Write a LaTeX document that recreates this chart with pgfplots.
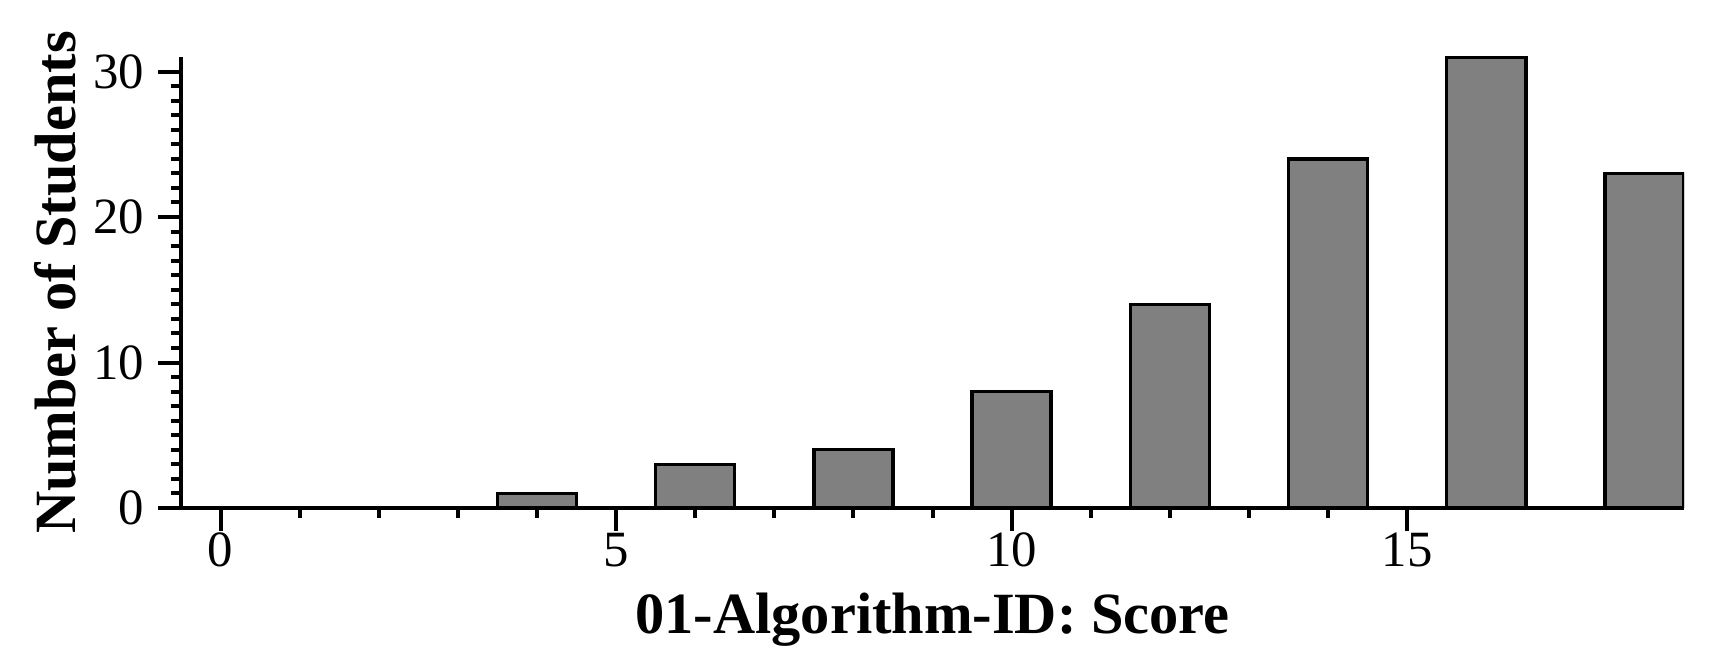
\documentclass[border=0pt]{standalone}
\usepackage{fontspec}
\setmainfont{Liberation Serif}
\usepackage{pgfplots}
\pgfplotsset{compat=1.18}
\begin{document}
\begin{tikzpicture}
\path[use as bounding box] (-45.25pt,-40.5pt) rectangle (384.75pt,127pt);
\begin{axis}[
  at={(0,0)}, anchor=south west,
  scale only axis, width=375.75pt, height=112.75pt,
  xmin=-0.5, xmax=18.5, ymin=0, ymax=31,
  axis x line=bottom, axis y line=left,
  axis line style={-, line width=1pt},
  every tick/.style={black, line width=1pt},
  tick align=outside,
  major tick length=5.75pt, minor tick length=2.5pt,
  xtick={0,5,10,15}, minor x tick num=4,
  ytick={0,10,20,30}, minor y tick num=9,
  /pgf/number format/assume math mode=true,
  tick label style={font=\fontsize{12.7}{14}\selectfont},
  xticklabel style={yshift=3pt},
  label style={font=\fontsize{14.6}{17}\selectfont\bfseries},
  xlabel={01-Algorithm-ID: Score},
  ylabel={Number of Students},
  xlabel style={at={(axis description cs:0.5,0)}, anchor=center, yshift=-28pt},
  ylabel style={at={(axis description cs:0,0.5)}, anchor=center, rotate=0, yshift=31.5pt},
  ybar, bar width=1,
]
\addplot[fill={rgb,255:red,128;green,128;blue,128}, draw=black, line width=0.85pt]
  coordinates {(0,0) (2,0) (4,1) (6,3) (8,4) (10,8) (12,14) (14,24) (16,31) (18,23)};
\end{axis}
\end{tikzpicture}
\end{document}
